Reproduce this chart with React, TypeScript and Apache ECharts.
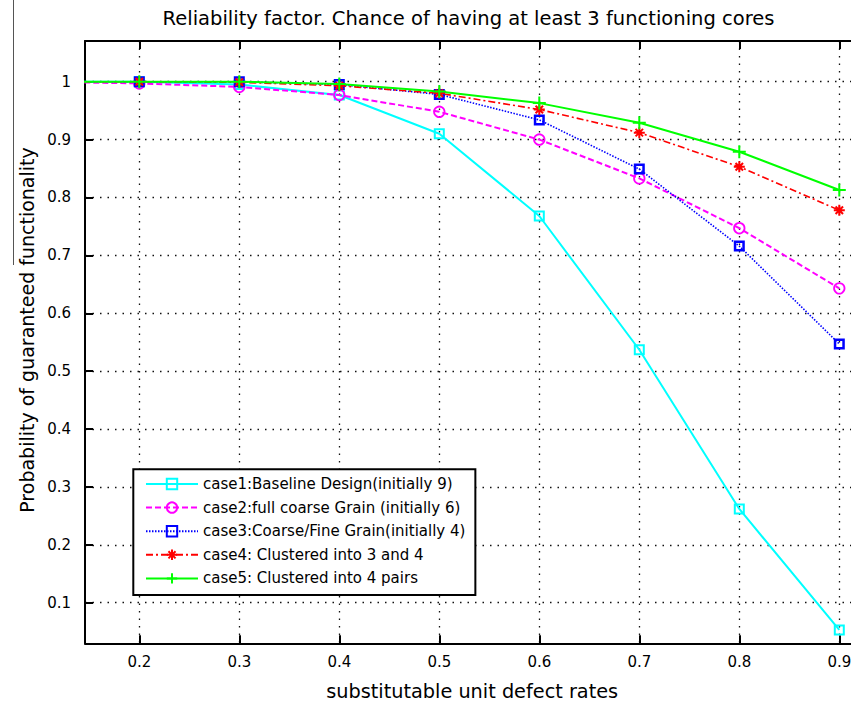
import React, { useEffect, useRef } from 'react';
import * as echarts from 'echarts';

const xValues = [0.1, 0.2, 0.3, 0.4, 0.5, 0.6, 0.7, 0.8, 0.9];
const case1 = [1.0, 1.0, 0.995, 0.977, 0.91, 0.768, 0.537, 0.262, 0.053];
const case2 = [1.0, 0.997, 0.991, 0.977, 0.948, 0.9, 0.833, 0.747, 0.643];
const case3 = [1.0, 1.0, 1.0, 0.995, 0.978, 0.934, 0.849, 0.716, 0.547];
const case4 = [1.0, 1.0, 0.999, 0.993, 0.98, 0.952, 0.912, 0.853, 0.778];
const case5 = [1.0, 1.0, 1.0, 0.996, 0.983, 0.963, 0.929, 0.879, 0.813];

const seriesNames = [
  'case1:Baseline Design(initially 9)',
  'case2:full coarse Grain (initially 6)',
  'case3:Coarse/Fine Grain(initially 4)',
  'case4: Clustered into 3 and 4',
  'case5: Clustered into 4 pairs',
];

const xTicks = [0.2, 0.3, 0.4, 0.5, 0.6, 0.7, 0.8, 0.9];
const yTicks = [0.1, 0.2, 0.3, 0.4, 0.5, 0.6, 0.7, 0.8, 0.9, 1];

const titleText = 'Reliability factor. Chance of having at least 3 functioning cores';
const xName = 'substitutable unit defect rates';
const yName = 'Probability of guaranteed functionality';

const FONT = 'DejaVu Sans';

const pairs = (ys: number[]) => xValues.map((x, i) => [x, ys[i]]);

const ASTERISK = 'path://M5,0L5,10M0,5L10,5M1.6,1.6L8.4,8.4M1.6,8.4L8.4,1.6';
const PLUS = 'path://M5,0L5,10M0,5L10,5';

const X_MIN = 0.1457;
const X_MAX = 0.92;
const Y_MIN = 0.0299;
const Y_MAX = 1.0703;

const fmt = (v: number) => String(+(+v).toFixed(2));

export default function App() {
  const ref = useRef<HTMLDivElement>(null);
  useEffect(() => {
    const chart = echarts.init(ref.current!, null, { renderer: 'svg' });
    const tickStyle = { show: true, inside: true, length: 8, lineStyle: { color: '#000', width: 2 } };
    const axisLine = { show: true, onZero: false, lineStyle: { color: '#000', width: 2 } };
    const grid = { type: [1.5, 6], color: '#111', width: 1.3 };
    const option: any = {
      animation: false,
      backgroundColor: '#fff',
      grid: { left: 85, top: 41, right: -8.3, bottom: 64.7, containLabel: false, outerBoundsMode: 'none' },
      graphic: [
        {
          type: 'text',
          x: 468.5,
          y: 18,
          style: { text: titleText, fontSize: 19.5, fontFamily: FONT, fill: '#000', align: 'center', verticalAlign: 'middle' },
        },
        {
          type: 'text',
          x: 27,
          y: 330,
          rotation: Math.PI / 2,
          style: { text: yName, fontSize: 19, fontFamily: FONT, fill: '#000', align: 'center', verticalAlign: 'middle' },
        },
        {
          type: 'line',
          shape: { x1: 13.5, y1: 0, x2: 13.5, y2: 265 },
          style: { stroke: '#555', lineWidth: 1 },
        },
      ],
      xAxis: [
        {
          type: 'value',
          min: X_MIN,
          max: X_MAX,
          position: 'bottom',
          name: xName,
          nameLocation: 'middle',
          nameGap: 39,
          nameTextStyle: { fontSize: 19.3, fontFamily: FONT, color: '#000' },
          axisLine,
          axisTick: { ...tickStyle, customValues: xTicks },
          axisLabel: { customValues: xTicks, margin: 11, fontSize: 15, fontFamily: FONT, color: '#000', formatter: fmt },
          splitLine: { show: true, lineStyle: grid },
        },
        {
          type: 'value',
          min: X_MIN,
          max: X_MAX,
          position: 'top',
          axisLine,
          axisTick: { ...tickStyle, customValues: xTicks },
          axisLabel: { show: false },
          splitLine: { show: false },
        },
      ],
      yAxis: [
        {
          type: 'value',
          min: Y_MIN,
          max: Y_MAX,
          position: 'left',
          axisLine,
          axisTick: { ...tickStyle, customValues: yTicks },
          axisLabel: { customValues: yTicks, margin: 14, fontSize: 15, fontFamily: FONT, color: '#000', formatter: fmt },
          splitLine: { show: true, lineStyle: grid },
        },
        {
          type: 'value',
          min: Y_MIN,
          max: Y_MAX,
          position: 'right',
          axisLine,
          axisTick: { ...tickStyle, customValues: yTicks },
          axisLabel: { show: false },
          splitLine: { show: false },
        },
      ],
      legend: {
        orient: 'vertical',
        left: 133.3,
        top: 469.3,
        padding: [5.7, 10, 7.7, 11.7],
        itemWidth: 52,
        itemHeight: 13,
        itemGap: 5.6,
        selectedMode: false,
        backgroundColor: '#fff',
        borderColor: '#000',
        borderWidth: 2,
        textStyle: { fontSize: 15, fontFamily: FONT, color: '#000', lineHeight: 18 },
        data: seriesNames,
      },
      series: [
        {
          name: seriesNames[0],
          type: 'line',
          data: pairs(case1),
          symbol: 'rect',
          symbolSize: 9,
          lineStyle: { color: '#00FFFF', width: 2, type: 'solid' },
          itemStyle: { color: 'rgba(0,0,0,0)', borderColor: '#00FFFF', borderWidth: 2 },
        },
        {
          name: seriesNames[1],
          type: 'line',
          data: pairs(case2),
          symbol: 'circle',
          symbolSize: 10.5,
          lineStyle: { color: '#FF00FF', width: 2, type: [6, 3] },
          itemStyle: { color: 'rgba(0,0,0,0)', borderColor: '#FF00FF', borderWidth: 1.8 },
        },
        {
          name: seriesNames[2],
          type: 'line',
          data: pairs(case3),
          symbol: 'rect',
          symbolSize: 8.5,
          lineStyle: { color: '#0000FF', width: 1.6, type: [1.5, 1.5] },
          itemStyle: { color: 'rgba(0,0,0,0)', borderColor: '#0000FF', borderWidth: 2.5 },
        },
        {
          name: seriesNames[3],
          type: 'line',
          data: pairs(case4),
          symbol: ASTERISK,
          symbolSize: 11,
          lineStyle: { color: '#FF0000', width: 1.6, type: [7, 3, 2, 3] },
          itemStyle: { color: 'rgba(0,0,0,0)', borderColor: '#FF0000', borderWidth: 2 },
        },
        {
          name: seriesNames[4],
          type: 'line',
          data: pairs(case5),
          symbol: PLUS,
          symbolSize: 13,
          lineStyle: { color: '#00FF00', width: 2, type: 'solid' },
          itemStyle: { color: 'rgba(0,0,0,0)', borderColor: '#00FF00', borderWidth: 2 },
        },
      ],
    };
    chart.setOption(option);
    return () => chart.dispose();
  }, []);
  return (
    <div
      ref={ref}
      style={{ position: 'fixed', left: 0, top: 0, width: 851, height: 708, background: '#fff' }}
    />
  );
}
